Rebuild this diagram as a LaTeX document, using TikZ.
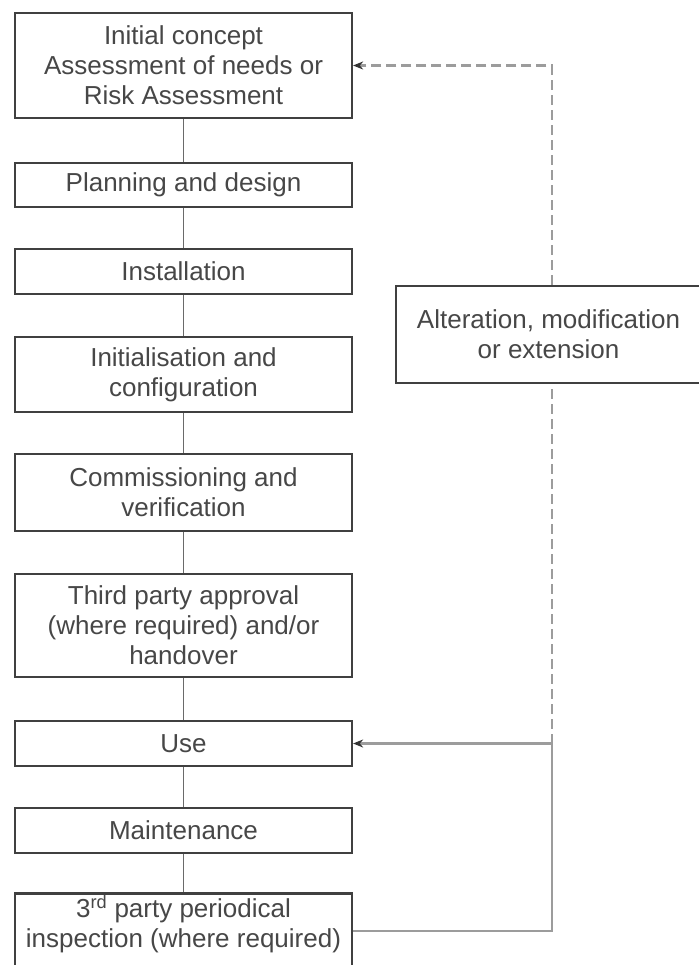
\documentclass[tikz,border=0pt]{standalone}
\usepackage{fontspec}
\setmainfont{Liberation Sans}
\usetikzlibrary{positioning, arrows.meta}

\definecolor{boxline}{HTML}{404040}
\definecolor{boxtext}{HTML}{474747}
\definecolor{chain}{HTML}{6A6A6A}
\definecolor{loopline}{HTML}{9C9C9C}

\begin{document}
\begin{tikzpicture}[
    x=1pt, y=1pt,
    font=\fontsize{26}{30}\selectfont,
    >={Stealth[length=10pt, width=8pt, color=black!80]},
    stage/.style={rectangle, draw=boxline, line width=2.2pt, text=boxtext,
        align=center, minimum width=337pt, inner sep=2pt},
    chainline/.style={draw=chain, line width=1.8pt},
    feedback/.style={draw=loopline, line width=2.2pt},
    later/.style={feedback, dash pattern=on 10pt off 5pt},
]
\useasboundingbox[fill=white] (0,0) rectangle (698,-965);

% ---- Life cycle stages (left column) ----
\node[stage, minimum height=105pt] (concept) at (183.5,-65.5)
    {Initial concept\\ Assessment of needs or\\ Risk Assessment};
\node[stage, minimum height=44pt] (planning) at (183.5,-185) {Planning and design};
\node[stage, minimum height=45pt] (install) at (183.5,-271.5) {Installation};
\node[stage, minimum height=75pt] (setup) at (183.5,-374.5)
    {Initialisation and\\ configuration};
\node[stage, minimum height=77pt] (commission) at (183.5,-492.5)
    {Commissioning and\\ verification};
\node[stage, minimum height=103pt] (approval) at (183.5,-625.5)
    {Third party approval\\ (where required) and/or\\ handover};
\node[stage, minimum height=45pt] (use) at (183.5,-743.5) {Use};
\node[stage, minimum height=45pt] (maint) at (183.5,-830.5) {Maintenance};
\node[stage, minimum height=90pt] (inspect) at (183.5,-941)
    {3\textsuperscript{rd} party periodical\\ inspection (where required)\\ \strut};

% ---- Side box ----
\node[stage, minimum width=305pt, minimum height=97pt] (alter) at (548.5,-334.5)
    {Alteration, modification\\ or extension};

% ---- Chain of stages ----
\foreach \a/\b in {concept/planning, planning/install, install/setup,
    setup/commission, commission/approval, approval/use, use/maint, maint/inspect}
    \draw[chainline] (\a) -- (\b);

% ---- Feedback loop ----
\coordinate (turn) at (552,-931);
\coordinate (join) at (552,-743.5);
\coordinate (corner) at (552,-65.5);

\draw[feedback] (inspect.east |- turn) -- (turn) -- (join);
\draw[feedback, ->] (join) -- (use.east);
\draw[later] (join) -- (alter.south -| join);
\draw[later, ->] (alter.north -| corner) -- (corner) -- (concept.east);

\end{tikzpicture}
\end{document}
